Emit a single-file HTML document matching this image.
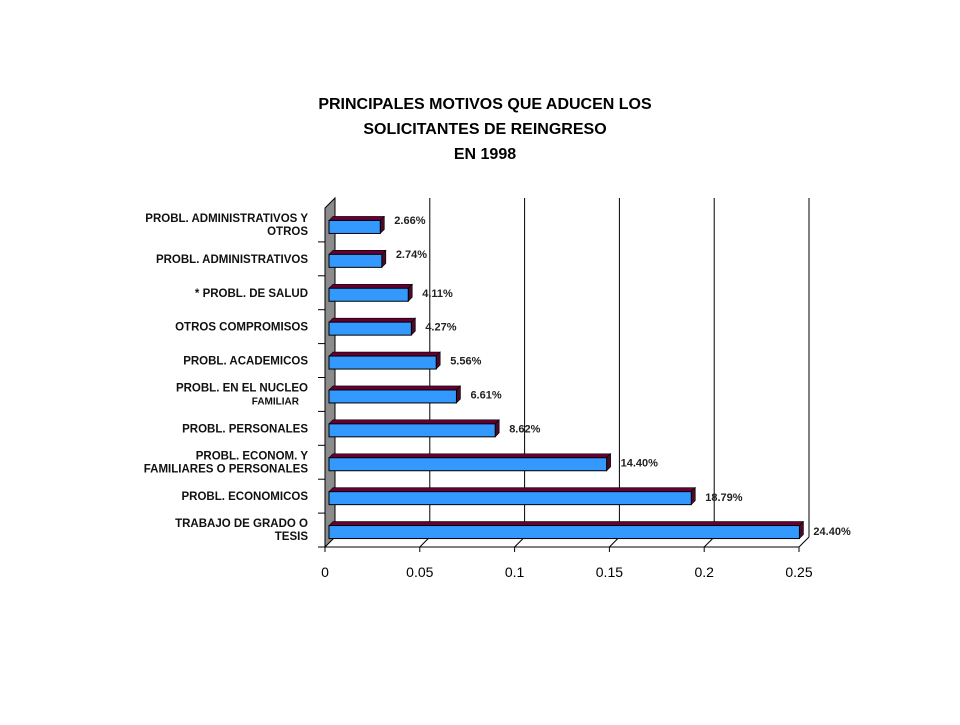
<!DOCTYPE html>
<html><head><meta charset="utf-8"><style>
body{margin:0;background:#fff;}
svg text{font-family:"Liberation Sans",sans-serif;}
</style></head><body>
<svg width="960" height="720" xmlns="http://www.w3.org/2000/svg" id="c">
<rect width="960" height="720" fill="#fff"/>
<g font-weight="bold" font-size="16" text-anchor="middle" fill="#000">
<text x="485" y="109">PRINCIPALES MOTIVOS QUE ADUCEN LOS</text>
<text x="485" y="134">SOLICITANTES DE REINGRESO</text>
<text x="485" y="159">EN 1998</text>
</g>
<g id="plot"></g>
</svg>
<script>
const categories=[["PROBL. ADMINISTRATIVOS Y","OTROS"],["PROBL. ADMINISTRATIVOS"],["* PROBL. DE SALUD"],["OTROS COMPROMISOS"],["PROBL. ACADEMICOS"],["PROBL. EN EL NUCLEO","FAMILIAR"],["PROBL. PERSONALES"],["PROBL. ECONOM. Y","FAMILIARES O PERSONALES"],["PROBL. ECONOMICOS"],["TRABAJO DE GRADO O","TESIS"]];
const values=[0.0266,0.0274,0.0411,0.0427,0.0556,0.0661,0.0862,0.1440,0.1879,0.2440];
const valueLabels=["2.66%","2.74%","4.11%","4.27%","5.56%","6.61%","8.62%","14.40%","18.79%","24.40%"];
const ticks=[0,0.05,0.1,0.15,0.2,0.25];
const tickLabels=["0","0.05","0.1","0.15","0.2","0.25"];

const NS="http://www.w3.org/2000/svg";
const g=document.getElementById('plot');
const x0=325,xMax=0.25,fw=474,dx=10,dy=10,yTop=208,yBot=547;
const xs=v=>x0+v/xMax*fw;
const band=(yBot-yTop)/categories.length;
const yc=i=>yTop+band*(i+0.5);
function mk(t,a){const e=document.createElementNS(NS,t);for(const k in a)e.setAttribute(k,a[k]);g.appendChild(e);return e;}
// left wall
let w=mk('polygon',{points:`${x0},${yTop} ${x0+dx},${yTop-dy} ${x0+dx},${yBot-dy} ${x0},${yBot}`,fill:'#8c8c8c',stroke:'#000','stroke-width':1});


// gridlines
ticks.forEach((t,i)=>{
  const xf=xs(t);
  if(i>0){
    const l=mk('line',{x1:xf+dx,y1:yTop-dy,x2:xf+dx,y2:yBot-dy,stroke:'#000','stroke-width':1});
    
    
    const d=mk('line',{x1:xf,y1:yBot,x2:xf+dx,y2:yBot-dy,stroke:'#000','stroke-width':1});
    
    
  }
  const tk=mk('line',{x1:xf,y1:yBot,x2:xf,y2:yBot+5,stroke:'#000'});
  
  
  const tx=mk('text',{x:xf,y:yBot+30,'font-size':14,'text-anchor':'middle',fill:'#000'});
  tx.textContent=tickLabels[i];
  
  
});
// x axis line
const ax=mk('line',{x1:x0,y1:yBot,x2:xs(xMax),y2:yBot,stroke:'#000'});


// category ticks
for(let i=0;i<=categories.length;i++){
  const y=yTop+band*i;
  if(i===0)continue;
  const t=mk('line',{x1:x0-7,y1:y,x2:x0,y2:y,stroke:'#000'});
  
  
}
// bars
const bh=13,d=4;
values.forEach((v,i)=>{
  const cy=yc(i),y=cy-bh/2+2,x1=x0+4,x2=x0+4+v/xMax*(fw+8);
  const top=mk('polygon',{points:`${x1},${y} ${x1+d},${y-d} ${x2+d},${y-d} ${x2},${y}`,fill:'#660033',stroke:'#000','stroke-width':0.6});
  
  
  const side=mk('polygon',{points:`${x2},${y} ${x2+d},${y-d} ${x2+d},${y+bh-d} ${x2},${y+bh}`,fill:'#4a0a2a',stroke:'#000','stroke-width':0.6});
  
  
  const r=mk('rect',{x:x1,y:y,width:x2-x1,height:bh,fill:'#3399ff',stroke:'#000','stroke-width':1});
  
  
  const vl=mk('text',{x:x2+14,y:cy+(i<2?-1:i>7?5:4),'font-size':11,'font-weight':'bold',fill:'#222'});
  vl.textContent=valueLabels[i];
  
  
  const lines=categories[i];
  lines.forEach((s,j)=>{
    const off=lines.length===1?4:(j===0?-3:10);
    const ct=mk('text',{x:lines[0].startsWith('PROBL. EN')&&j===1?299:308,y:cy+off,'font-size':j===1&&lines[0].startsWith('PROBL. EN')?10:11.5,'font-weight':'bold','text-anchor':'end',fill:'#111'});
    ct.textContent=s;
    
    
  });
});
</script>
</body></html>
